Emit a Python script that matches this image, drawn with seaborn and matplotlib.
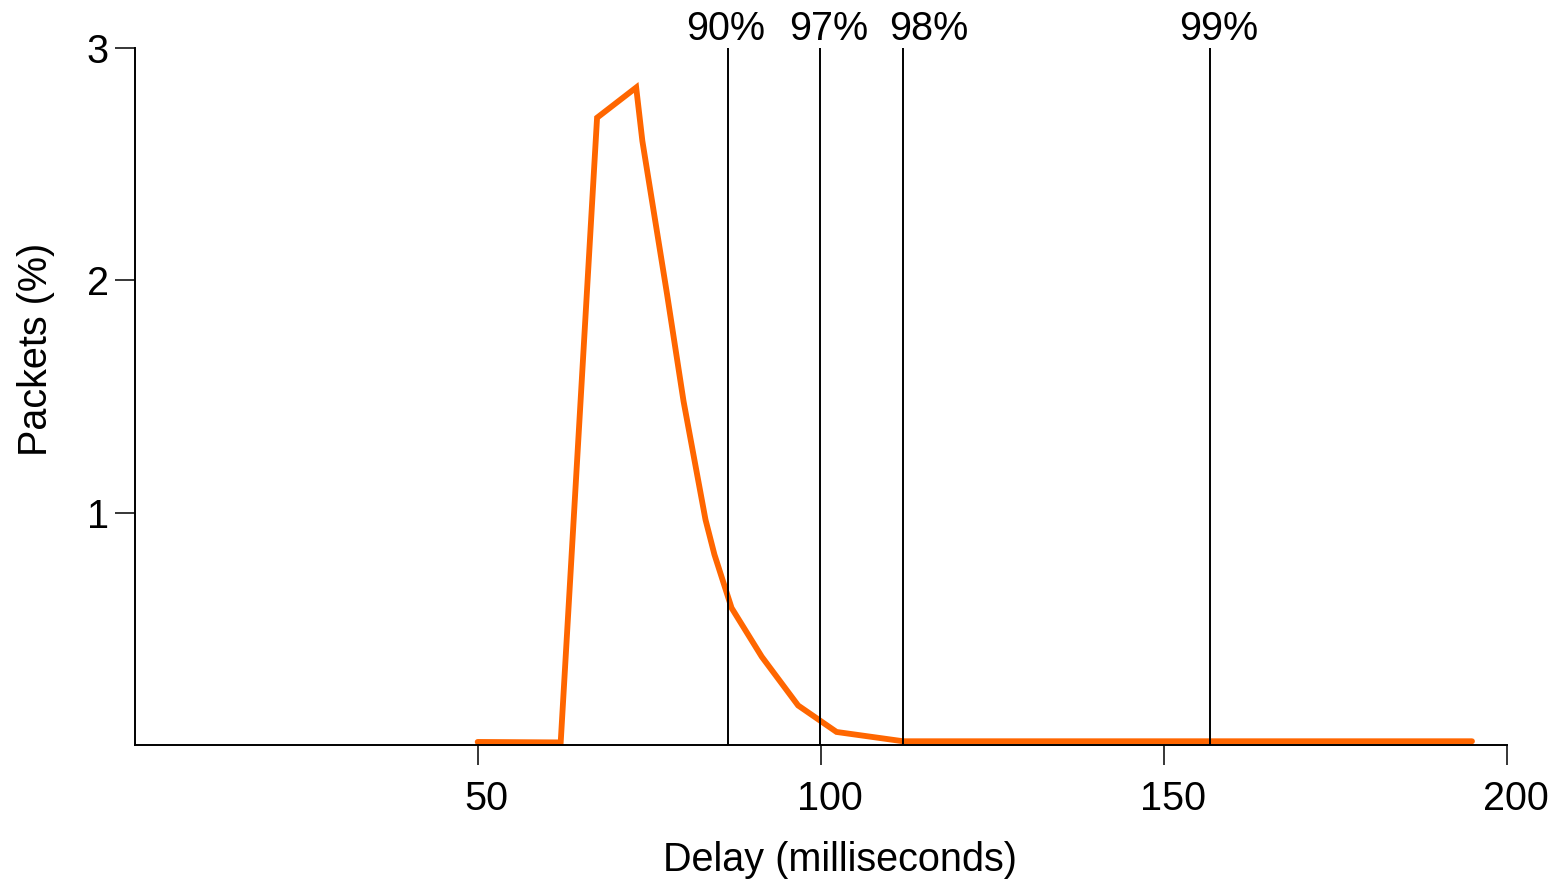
import numpy as np
import pandas as pd
import matplotlib
matplotlib.use('Agg')
import matplotlib.pyplot as plt
import matplotlib.transforms as mtransforms
import seaborn as sns

# delay distribution (ms -> % of packets)
delay_ms = [50.0, 62.1, 67.4, 73.1, 74.0, 77.6, 80.0, 83.2, 84.5, 87.0,
            91.4, 96.7, 102.3, 112.0, 150.0, 194.9]
packets_pct = [0.013, 0.011, 2.70, 2.83, 2.60, 1.94, 1.48, 0.97, 0.82, 0.59,
               0.38, 0.17, 0.056, 0.016, 0.016, 0.016]

# percentile markers
pct_labels = ['90%', '97%', '98%', '99%']
pct_delay = [86.5, 99.9, 112.0, 156.7]
pct_label_x = [86.1, 101.2, 115.8, 158.0]

x_ticks = [50, 100, 150, 200]
y_ticks = [1, 2, 3]

df = pd.DataFrame({'delay': delay_ms, 'packets': packets_pct})

FS = 28.5

sns.set_style('ticks')
plt.rcParams['font.family'] = ['Liberation Sans', 'DejaVu Sans']
plt.rcParams['font.size'] = FS
for k in ['text.color', 'axes.labelcolor', 'xtick.color', 'ytick.color', 'axes.edgecolor']:
    plt.rcParams[k] = 'black'

fig = plt.figure(figsize=(15.61, 8.81), dpi=100)
ax = fig.add_axes([0.0862, 0.1544, 0.9654 - 0.0862, 0.9455 - 0.1544])

sns.lineplot(data=df, x='delay', y='packets', ax=ax, color='#FF6600',
             linewidth=4.2, solid_joinstyle='miter')

for xv, xl, lab in zip(pct_delay, pct_label_x, pct_labels):
    ax.vlines(xv, 0, 3, color='black', linewidth=1.4)
    ax.text(xl, 3.08, lab, ha='center', va='center', fontsize=FS, clip_on=False)

ax.set_xlim(0, 200)
ax.set_ylim(0, 3)
ax.set_xticks(x_ticks)
ax.set_yticks(y_ticks)
ax.tick_params(axis='both', length=14.4, width=1.1, labelsize=FS)
ax.tick_params(axis='y', pad=4)
ax.tick_params(axis='x', pad=11)
# x tick labels sit a little right of their ticks in the reference
shift = mtransforms.ScaledTranslation(9 / 100, 0, fig.dpi_scale_trans)
for lbl in ax.get_xticklabels():
    lbl.set_transform(lbl.get_transform() + shift)

for s in ['top', 'right']:
    ax.spines[s].set_visible(False)
for s in ['left', 'bottom']:
    ax.spines[s].set_linewidth(1.4)

ax.set_xlabel('Delay (milliseconds)', fontsize=FS)
ax.set_ylabel('Packets (%)', fontsize=FS)
ax.xaxis.set_label_coords(0.514, -0.138)
ax.yaxis.set_label_coords(-0.058, 0.567)

fig.savefig('out.png', dpi=100, facecolor='white')
